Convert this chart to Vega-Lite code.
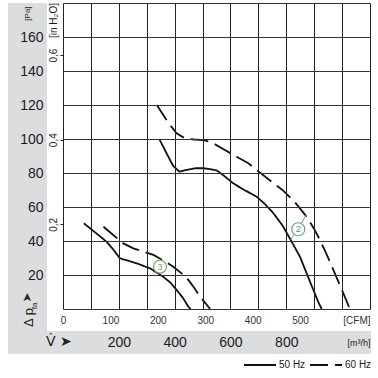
{
  "$schema": "https://vega.github.io/schema/vega-lite/v6.json",
  "width": 307,
  "height": 306,
  "autosize": "none",
  "padding": {"left": 63, "top": 3, "right": 8, "bottom": 69},
  "background": "white",
  "config": {
    "view": {"stroke": null},
    "font": "Liberation Sans",
    "axis": {"labelFont": "Liberation Sans", "labelColor": "#1a1a1a", "zindex": 1},
    "legend": {
      "orient": "none",
      "legendX": 180,
      "legendY": 345,
      "direction": "horizontal",
      "symbolType": "stroke",
      "symbolSize": 1024,
      "symbolStrokeWidth": 2,
      "labelFont": "Liberation Sans",
      "labelFontSize": 10,
      "labelColor": "#222",
      "labelOffset": 2,
      "columnPadding": 0,
      "padding": 0
    }
  },
  "datasets": {
    "curves": [
      {"fan": "2", "freq": "50 Hz", "flow": 345, "pressure": 100},
      {"fan": "2", "freq": "50 Hz", "flow": 371, "pressure": 91.6},
      {"fan": "2", "freq": "50 Hz", "flow": 395, "pressure": 84.1},
      {"fan": "2", "freq": "50 Hz", "flow": 417, "pressure": 80.8},
      {"fan": "2", "freq": "50 Hz", "flow": 443, "pressure": 81.8},
      {"fan": "2", "freq": "50 Hz", "flow": 475, "pressure": 82.8},
      {"fan": "2", "freq": "50 Hz", "flow": 503, "pressure": 82.8},
      {"fan": "2", "freq": "50 Hz", "flow": 530, "pressure": 82.2},
      {"fan": "2", "freq": "50 Hz", "flow": 551, "pressure": 81.5},
      {"fan": "2", "freq": "50 Hz", "flow": 580, "pressure": 78},
      {"fan": "2", "freq": "50 Hz", "flow": 610, "pressure": 73.9},
      {"fan": "2", "freq": "50 Hz", "flow": 650, "pressure": 70},
      {"fan": "2", "freq": "50 Hz", "flow": 694, "pressure": 66},
      {"fan": "2", "freq": "50 Hz", "flow": 725, "pressure": 61.5},
      {"fan": "2", "freq": "50 Hz", "flow": 754, "pressure": 56.3},
      {"fan": "2", "freq": "50 Hz", "flow": 787, "pressure": 49},
      {"fan": "2", "freq": "50 Hz", "flow": 818, "pressure": 40},
      {"fan": "2", "freq": "50 Hz", "flow": 849, "pressure": 30.8},
      {"fan": "2", "freq": "50 Hz", "flow": 873, "pressure": 21},
      {"fan": "2", "freq": "50 Hz", "flow": 897, "pressure": 11.2},
      {"fan": "2", "freq": "50 Hz", "flow": 915, "pressure": 4},
      {"fan": "2", "freq": "50 Hz", "flow": 927, "pressure": 0},
      {"fan": "2", "freq": "60 Hz", "flow": 336, "pressure": 120},
      {"fan": "2", "freq": "60 Hz", "flow": 371, "pressure": 111.2},
      {"fan": "2", "freq": "60 Hz", "flow": 386, "pressure": 107.8},
      {"fan": "2", "freq": "60 Hz", "flow": 407, "pressure": 103.3},
      {"fan": "2", "freq": "60 Hz", "flow": 437, "pressure": 100.4},
      {"fan": "2", "freq": "60 Hz", "flow": 470, "pressure": 99.7},
      {"fan": "2", "freq": "60 Hz", "flow": 503, "pressure": 99.4},
      {"fan": "2", "freq": "60 Hz", "flow": 533, "pressure": 98},
      {"fan": "2", "freq": "60 Hz", "flow": 580, "pressure": 93.5},
      {"fan": "2", "freq": "60 Hz", "flow": 622, "pressure": 89.6},
      {"fan": "2", "freq": "60 Hz", "flow": 664, "pressure": 85.7},
      {"fan": "2", "freq": "60 Hz", "flow": 694, "pressure": 81.8},
      {"fan": "2", "freq": "60 Hz", "flow": 754, "pressure": 74},
      {"fan": "2", "freq": "60 Hz", "flow": 790, "pressure": 69.5},
      {"fan": "2", "freq": "60 Hz", "flow": 830, "pressure": 63},
      {"fan": "2", "freq": "60 Hz", "flow": 873, "pressure": 54.3},
      {"fan": "2", "freq": "60 Hz", "flow": 900, "pressure": 47},
      {"fan": "2", "freq": "60 Hz", "flow": 921, "pressure": 40.6},
      {"fan": "2", "freq": "60 Hz", "flow": 945, "pressure": 32},
      {"fan": "2", "freq": "60 Hz", "flow": 969, "pressure": 22.9},
      {"fan": "2", "freq": "60 Hz", "flow": 1000, "pressure": 11},
      {"fan": "2", "freq": "60 Hz", "flow": 1028, "pressure": 0},
      {"fan": "3", "freq": "50 Hz", "flow": 75, "pressure": 50.4},
      {"fan": "3", "freq": "50 Hz", "flow": 115, "pressure": 45.1},
      {"fan": "3", "freq": "50 Hz", "flow": 156, "pressure": 39.6},
      {"fan": "3", "freq": "50 Hz", "flow": 180, "pressure": 35},
      {"fan": "3", "freq": "50 Hz", "flow": 204, "pressure": 29.8},
      {"fan": "3", "freq": "50 Hz", "flow": 234, "pressure": 28.4},
      {"fan": "3", "freq": "50 Hz", "flow": 270, "pressure": 26.5},
      {"fan": "3", "freq": "50 Hz", "flow": 312, "pressure": 23.9},
      {"fan": "3", "freq": "50 Hz", "flow": 359, "pressure": 19},
      {"fan": "3", "freq": "50 Hz", "flow": 385, "pressure": 15.5},
      {"fan": "3", "freq": "50 Hz", "flow": 407, "pressure": 11.2},
      {"fan": "3", "freq": "50 Hz", "flow": 430, "pressure": 6.5},
      {"fan": "3", "freq": "50 Hz", "flow": 449, "pressure": 1.4},
      {"fan": "3", "freq": "50 Hz", "flow": 457, "pressure": 0},
      {"fan": "3", "freq": "60 Hz", "flow": 145, "pressure": 48.4},
      {"fan": "3", "freq": "60 Hz", "flow": 180, "pressure": 43.5},
      {"fan": "3", "freq": "60 Hz", "flow": 216, "pressure": 38.6},
      {"fan": "3", "freq": "60 Hz", "flow": 252, "pressure": 35.7},
      {"fan": "3", "freq": "60 Hz", "flow": 290, "pressure": 33.7},
      {"fan": "3", "freq": "60 Hz", "flow": 324, "pressure": 31.8},
      {"fan": "3", "freq": "60 Hz", "flow": 360, "pressure": 28.5},
      {"fan": "3", "freq": "60 Hz", "flow": 395, "pressure": 24.9},
      {"fan": "3", "freq": "60 Hz", "flow": 425, "pressure": 21},
      {"fan": "3", "freq": "60 Hz", "flow": 449, "pressure": 17.1},
      {"fan": "3", "freq": "60 Hz", "flow": 470, "pressure": 12.5},
      {"fan": "3", "freq": "60 Hz", "flow": 491, "pressure": 7.2},
      {"fan": "3", "freq": "60 Hz", "flow": 510, "pressure": 3.5},
      {"fan": "3", "freq": "60 Hz", "flow": 527, "pressure": 0}
    ],
    "badges": [
      {"label": "2", "flow": 843, "pressure": 46.9},
      {"label": "3", "flow": 347.5, "pressure": 24.9}
    ],
    "leaders": [
      {"flow": 828, "pressure": 43.9, "flow2": 816, "pressure2": 41},
      {"flow": 854, "pressure": 50.2, "flow2": 871, "pressure2": 55.3}
    ]
  },
  "layer": [
    {
      "data": {"values": [{}]},
      "mark": {"type": "rect", "fill": "#dcddde"},
      "encoding": {
        "x": {"datum": -197, "type": "quantitative", "axis": null},
        "x2": {"datum": -57.3},
        "y": {"datum": -26.5, "type": "quantitative", "axis": null},
        "y2": {"datum": 180}
      }
    },
    {
      "data": {"values": [{}]},
      "mark": {"type": "rect", "fill": "#dcddde"},
      "encoding": {
        "x": {"datum": -197, "type": "quantitative", "axis": null},
        "x2": {"datum": 1103.5},
        "y": {"datum": -26.5, "type": "quantitative", "axis": null},
        "y2": {"datum": -12.9}
      }
    },
    {
      "data": {"name": "curves"},
      "mark": {"type": "line", "color": "#111", "strokeWidth": 1.8},
      "encoding": {
        "x": {
          "field": "flow", "type": "quantitative",
          "scale": {"domain": [0, 1100], "nice": false, "zero": false},
          "axis": {
            "orient": "bottom", "zindex": 2,
            "values": [0, 100, 200, 300, 400, 500, 600, 700, 800, 900, 1000, 1100],
            "grid": true, "gridColor": "#222", "gridWidth": 1,
            "ticks": false, "tickSize": 0, "domain": false, "title": null,
            "labelPadding": 33, "labelBaseline": "middle",
            "labelFlush": false, "labelOverlap": false, "labelBound": false,
            "labelFontSize": {"condition": {"test": "datum.value >= 1100", "value": 9}, "value": 14},
            "labelAlign": {"condition": {"test": "datum.value >= 1100", "value": "right"}, "value": "center"},
            "labelExpr": "datum.value >= 1100 ? '[m³/h]' : ((datum.value >= 200 && datum.value <= 800 && datum.value % 200 == 0) ? datum.label : '')"
          }
        },
        "y": {
          "field": "pressure", "type": "quantitative",
          "scale": {"domain": [0, 180], "nice": false, "zero": false},
          "axis": {
            "orient": "left", "zindex": 2,
            "values": [0, 20, 40, 60, 80, 100, 120, 140, 160, 180],
            "grid": true, "gridColor": "#333", "gridWidth": 1.1,
            "ticks": false, "tickSize": 0, "domain": false, "title": null,
            "labelPadding": 20, "labelFontSize": 14, "labelOverlap": false,
            "labelExpr": "(datum.value > 0 && datum.value < 170) ? datum.label : ''"
          }
        },
        "detail": {"field": "fan"},
        "strokeDash": {
          "field": "freq", "type": "nominal",
          "scale": {"domain": ["50 Hz", "60 Hz"], "range": [[1, 0], [18, 7]]},
          "legend": {"title": null}
        }
      }
    },
    {
      "data": {"name": "leaders"},
      "mark": {"type": "rule", "color": "#6aaa80", "strokeWidth": 1},
      "encoding": {
        "x": {"field": "flow", "type": "quantitative", "axis": null},
        "y": {"field": "pressure", "type": "quantitative", "axis": null},
        "x2": {"field": "flow2"},
        "y2": {"field": "pressure2"}
      }
    },
    {
      "data": {"name": "badges"},
      "mark": {"type": "point", "shape": "circle", "filled": false, "fill": "white", "fillOpacity": 1, "stroke": "#62a87a", "strokeWidth": 1.2, "size": 169, "opacity": 1},
      "encoding": {
        "x": {
          "field": "flow", "type": "quantitative",
          "axis": {
            "orient": "bottom", "zindex": 2,
            "values": [0, 169.9, 339.8, 509.7, 679.6, 849.5, 1100],
            "grid": false, "ticks": false, "tickSize": 0, "domain": false, "title": null,
            "labelPadding": 11, "labelBaseline": "middle", "labelFontSize": 10, "labelColor": "#333",
            "labelFlush": false, "labelOverlap": false, "labelBound": false,
            "labelAlign": {"condition": {"test": "datum.value > 1099", "value": "right"}, "value": "center"},
            "labelExpr": "datum.value > 1099 ? '[CFM]' : format(datum.value / 1.699, '.0f')"
          }
        },
        "y": {
          "field": "pressure", "type": "quantitative",
          "axis": {
            "orient": "left", "zindex": 2,
            "values": [49.8, 99.6, 149.4, 170],
            "grid": false, "domain": false, "title": null,
            "ticks": true, "tickSize": 3, "tickColor": "#222", "tickWidth": 1,
            "tickOpacity": {"condition": {"test": "datum.value > 160", "value": 0}, "value": 1},
            "labelAngle": 270, "labelAlign": "center", "labelBaseline": "bottom",
            "labelPadding": 2, "labelFontSize": 10, "labelOverlap": false,
            "labelExpr": "datum.value > 160 ? '[in H₂O]' : replace(format(datum.value / 249.1, '.1f'), '.', ',')"
          }
        }
      }
    },
    {
      "data": {"name": "badges"},
      "mark": {"type": "text", "fontSize": 9, "font": "Liberation Sans", "align": "center", "baseline": "middle"},
      "encoding": {
        "x": {"field": "flow", "type": "quantitative", "axis": null},
        "y": {"field": "pressure", "type": "quantitative", "axis": null},
        "text": {"field": "label"},
        "color": {"field": "label", "type": "nominal", "scale": {"domain": ["2", "3"], "range": ["#3d8eb9", "#9a9a3a"]}, "legend": null}
      }
    },
    {
      "data": {"values": [{}]},
      "mark": {"type": "text", "text": "[Pa]", "angle": 270, "fontSize": 8, "color": "#222", "align": "center", "baseline": "middle"},
      "encoding": {
        "x": {"datum": -127, "type": "quantitative", "axis": null},
        "y": {"datum": 173.8, "type": "quantitative", "axis": null}
      }
    },
    {
      "data": {"values": [{}]},
      "mark": {"type": "text", "text": "Δ p", "angle": 270, "fontSize": 13, "font": "Liberation Sans", "color": "#222", "align": "center", "baseline": "middle"},
      "encoding": {
        "x": {"datum": -121.8, "type": "quantitative", "axis": null},
        "y": {"datum": -5, "type": "quantitative", "axis": null}
      }
    },
    {
      "data": {"values": [{}]},
      "mark": {"type": "text", "text": "fa", "angle": 270, "fontSize": 8, "color": "#222", "align": "center", "baseline": "middle"},
      "encoding": {
        "x": {"datum": -100, "type": "quantitative", "axis": null},
        "y": {"datum": 1.8, "type": "quantitative", "axis": null}
      }
    },
    {
      "data": {"values": [{}]},
      "mark": {"type": "text", "text": "➤", "angle": 270, "fontSize": 12, "font": "DejaVu Sans", "color": "#222", "align": "center", "baseline": "middle"},
      "encoding": {
        "x": {"datum": -129, "type": "quantitative", "axis": null},
        "y": {"datum": 6.8, "type": "quantitative", "axis": null}
      }
    },
    {
      "data": {"values": [{}]},
      "mark": {"type": "text", "text": "V̇ ➤", "fontSize": 14, "font": "DejaVu Sans", "color": "#222", "align": "left", "baseline": "middle"},
      "encoding": {
        "x": {"datum": -61, "type": "quantitative", "axis": null},
        "y": {"datum": -19.4, "type": "quantitative", "axis": null}
      }
    }
  ],
  "resolve": {"axis": {"x": "independent", "y": "independent"}}
}
